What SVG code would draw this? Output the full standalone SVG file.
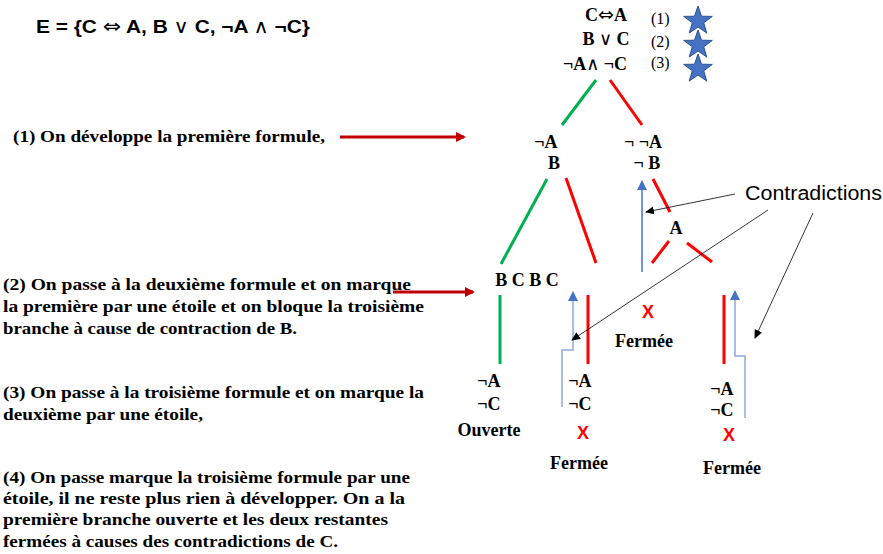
<svg xmlns="http://www.w3.org/2000/svg" width="883" height="554" viewBox="0 0 883 554">
<defs>
<style>
.tb{font-family:"Liberation Serif","Times New Roman",serif;font-weight:bold;font-size:18px;fill:#000}
.tr{font-family:"Liberation Serif","Times New Roman",serif;font-size:16px;fill:#000}
.lt{font-family:"Liberation Serif","Times New Roman",serif;font-weight:bold;font-size:16.5px;fill:#000}
.sy{font-family:"DejaVu Sans",sans-serif;font-weight:normal}
.sx{font-family:"Liberation Sans",Arial,sans-serif;font-weight:bold;font-size:18px;fill:#FF0000}
.g{stroke:#00B050;stroke-width:3;fill:none}
.r{stroke:#FF0000;stroke-width:3;fill:none}
.bl{stroke:#8FAADC;stroke-width:1.5;fill:none}
.bk{stroke:#000;stroke-width:0.8;fill:none}
.ra{stroke:#C00000;stroke-width:3;fill:none}
.star{fill:#4472C4;stroke:#2F528F;stroke-width:1}
</style>
<marker id="mr" markerWidth="10" markerHeight="10" refX="8" refY="5" orient="auto" markerUnits="userSpaceOnUse"><path d="M0,0 L10,5 L0,10 z" fill="#C00000"/></marker>
<marker id="mb" markerWidth="10" markerHeight="10" refX="8" refY="5" orient="auto" markerUnits="userSpaceOnUse"><path d="M0,0 L10,5 L0,10 z" fill="#4472C4"/></marker>
<marker id="mk" markerWidth="10" markerHeight="10" refX="8" refY="5" orient="auto" markerUnits="userSpaceOnUse"><path d="M0,1 L9,5 L0,9 z" fill="#000"/></marker>
<path id="st" d="M0,-15 L3.5,-4.8 L14.3,-4.6 L5.7,1.8 L8.8,12.1 L0,6 L-8.8,12.1 L-5.7,1.8 L-14.3,-4.6 L-3.5,-4.8 z"/>
</defs>
<rect width="883" height="554" fill="#fff"/>

<g id="title"><text x="36" y="33" font-family="'Liberation Sans',Arial,sans-serif" font-weight="bold" font-size="19" textLength="274" lengthAdjust="spacingAndGlyphs">E = {C <tspan class="sy" font-size="20">⇔</tspan> A, B <tspan class="sy">∨</tspan> C, ¬A <tspan class="sy">∧</tspan> ¬C}</text></g>

<g id="root">
<text class="tb" x="606" y="21" text-anchor="middle">C<tspan class="sy" font-size="19">⇔</tspan>A</text>
<text class="tb" x="606" y="45" text-anchor="middle">B <tspan class="sy">∨</tspan> C</text>
<text class="tb" x="595" y="70" text-anchor="middle">¬A<tspan class="sy">∧</tspan> ¬C</text>
<text class="tr" x="651" y="24">(1)</text>
<text class="tr" x="651" y="47">(2)</text>
<text class="tr" x="651" y="68">(3)</text>
<use href="#st" class="star" x="698" y="21"/>
<use href="#st" class="star" x="698" y="45"/>
<use href="#st" class="star" x="698" y="69"/>
</g>

<g id="n-left1">
<text class="tb" x="546" y="148" text-anchor="middle">¬A</text>
<text class="tb" x="554" y="169" text-anchor="middle">B</text>
</g>
<g id="n-right1">
<text class="tb" x="643" y="148" text-anchor="middle">¬ ¬A</text>
<text class="tb" x="647" y="169" text-anchor="middle">¬ B</text>
</g>
<g id="n-A"><text class="tb" x="676" y="234" text-anchor="middle">A</text></g>
<g id="n-BCBC"><text class="tb" x="527" y="286" text-anchor="middle">B C B C</text></g>
<g id="n-leaf1">
<text class="tb" x="489" y="387" text-anchor="middle">¬A</text>
<text class="tb" x="489" y="410" text-anchor="middle">¬C</text>
<text class="tb" x="489" y="436" text-anchor="middle">Ouverte</text>
</g>
<g id="n-leaf2">
<text class="tb" x="580" y="387" text-anchor="middle">¬A</text>
<text class="tb" x="580" y="410" text-anchor="middle">¬C</text>
<text class="sx" x="583" y="439" text-anchor="middle">X</text>
<text class="tb" x="579" y="469" text-anchor="middle">Fermée</text>
</g>
<g id="n-closedA">
<text class="sx" x="648" y="318" text-anchor="middle">X</text>
<text class="tb" x="644" y="347" text-anchor="middle">Fermée</text>
</g>
<g id="n-leaf3">
<text class="tb" x="722" y="395" text-anchor="middle">¬A</text>
<text class="tb" x="722" y="416" text-anchor="middle">¬C</text>
<text class="sx" x="729" y="441" text-anchor="middle">X</text>
<text class="tb" x="732" y="474" text-anchor="middle">Fermée</text>
</g>
<g id="n-contradictions"><text x="745" y="200" font-family="'Liberation Sans',Arial,sans-serif" font-size="20" textLength="137" lengthAdjust="spacingAndGlyphs">Contradictions</text></g>

<g id="explanations">
<text class="lt" x="13" y="142" textLength="312" lengthAdjust="spacingAndGlyphs">(1) On développe la première formule,</text>
<text class="lt" x="3" y="290" textLength="408" lengthAdjust="spacingAndGlyphs">(2) On passe à la deuxième formule et on marque</text>
<text class="lt" x="3" y="312" textLength="421" lengthAdjust="spacingAndGlyphs">la première par une étoile et on bloque la troisième</text>
<text class="lt" x="3" y="334" textLength="294" lengthAdjust="spacingAndGlyphs">branche à cause de contraction de B.</text>
<text class="lt" x="3" y="398" textLength="421" lengthAdjust="spacingAndGlyphs">(3) On passe à la troisième formule et on marque la</text>
<text class="lt" x="3" y="420" textLength="200" lengthAdjust="spacingAndGlyphs">deuxième par une étoile,</text>
<text class="lt" x="3" y="483" textLength="407" lengthAdjust="spacingAndGlyphs">(4) On passe marque la troisième formule par une</text>
<text class="lt" x="3" y="504" textLength="402" lengthAdjust="spacingAndGlyphs">étoile, il ne reste plus rien à développer. On a la</text>
<text class="lt" x="3" y="525" textLength="385" lengthAdjust="spacingAndGlyphs">première branche ouverte et les deux restantes</text>
<text class="lt" x="3" y="547" textLength="335" lengthAdjust="spacingAndGlyphs">fermées à causes des contradictions de C.</text>
</g>

<g id="connectors">
<line class="g" x1="596" y1="80" x2="562" y2="125"/>
<line class="r" x1="610" y1="80" x2="642" y2="125"/>
<line class="g" x1="547" y1="179" x2="501" y2="264"/>
<line class="r" x1="566" y1="178" x2="596" y2="263"/>
<line class="r" x1="653" y1="179" x2="670" y2="212"/>
<line class="r" x1="652" y1="263" x2="669" y2="241"/>
<line class="r" x1="687" y1="243" x2="712" y2="262"/>
<line class="g" x1="500" y1="295" x2="500" y2="364"/>
<line class="r" x1="588" y1="295" x2="588" y2="364"/>
<line class="r" x1="724" y1="295" x2="724" y2="364"/>
<line class="ra" x1="340" y1="137" x2="464" y2="137" marker-end="url(#mr)"/>
<line class="ra" x1="393" y1="292" x2="473" y2="292" marker-end="url(#mr)"/>
<line x1="642" y1="272" x2="642" y2="182" stroke="#4472C4" stroke-width="1.5" marker-end="url(#mb)"/>
<path class="bl" d="M562,407 V350 H573 V293" marker-end="url(#mb)"/>
<path class="bl" d="M745,418 V356 H735 V292" marker-end="url(#mb)"/>
<line class="bk" x1="735" y1="194" x2="646" y2="212" marker-end="url(#mk)"/>
<line class="bk" x1="768" y1="210" x2="572" y2="340" marker-end="url(#mk)"/>
<line class="bk" x1="813" y1="213" x2="755" y2="338" marker-end="url(#mk)"/>
</g>
</svg>
